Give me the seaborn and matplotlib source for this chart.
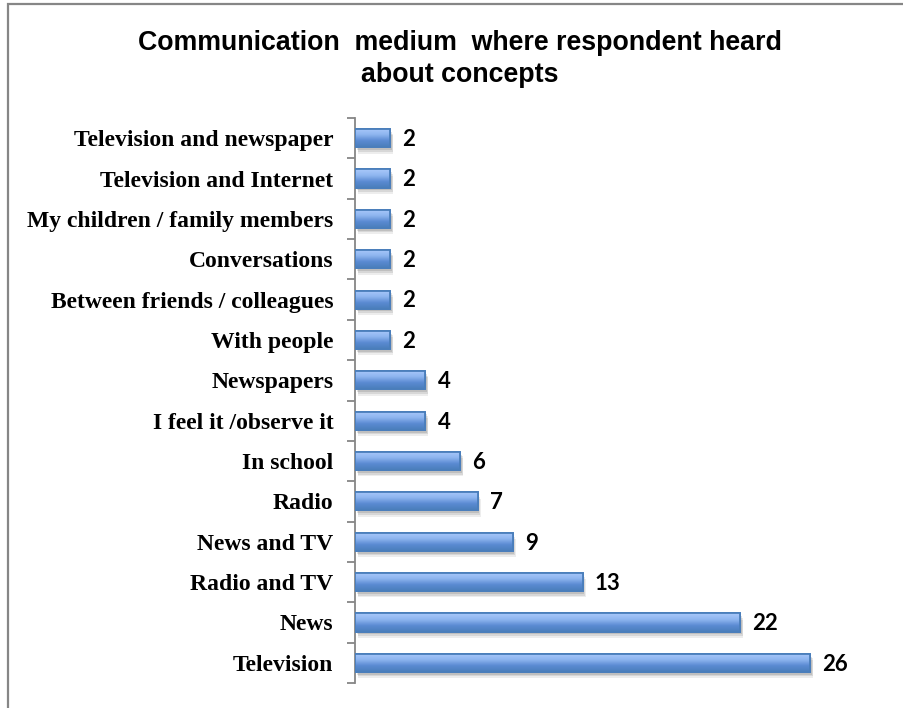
import numpy as np
import pandas as pd
import matplotlib
matplotlib.use("Agg")
import matplotlib.pyplot as plt
import matplotlib.patheffects as pe
from matplotlib.colors import LinearSegmentedColormap
from matplotlib.patches import Rectangle
import seaborn as sns

# Survey responses: where respondents heard about the concepts
categories = [
    "Television and newspaper",
    "Television and Internet",
    "My children / family members",
    "Conversations",
    "Between friends / colleagues",
    "With people",
    "Newspapers",
    "I feel it /observe it",
    "In school",
    "Radio",
    "News and TV",
    "Radio and TV",
    "News",
    "Television",
]
counts = [2, 2, 2, 2, 2, 2, 4, 4, 6, 7, 9, 13, 22, 26]
title = "Communication  medium  where respondent heard\nabout concepts"

df = pd.DataFrame({"medium": categories, "count": counts})

sns.set_theme(style="white")
plt.rcParams["font.family"] = ["DejaVu Sans"]
plt.rcParams["text.color"] = "black"
plt.rcParams["ytick.labelcolor"] = "black"

W, H = 904, 708
fig = plt.figure(figsize=(W / 100, H / 100), dpi=100)
ax = fig.add_axes([355 / W, 1 - 683 / H, (880 - 355) / W, (683 - 118) / H])

sns.barplot(data=df, x="count", y="medium", orient="h", width=0.45,
            color="#6f9ee0", edgecolor="#4a7ebb", linewidth=1.3, ax=ax,
            zorder=3)

# vertical gradient fill and soft drop shadow on each bar
grad = LinearSegmentedColormap.from_list(
    "bar", ["#a9c9fa", "#8fb6f0", "#5a8ad2", "#4a7ebb"])
gimg = np.linspace(0, 1, 64).reshape(-1, 1)
for p in ax.patches:
    x0, y0 = p.get_x(), p.get_y()
    w, h = p.get_width(), p.get_height()
    p.set_path_effects([
        pe.SimplePatchShadow(offset=(2.5, -4.5), shadow_rgbFace="#000000", alpha=0.07),
        pe.SimplePatchShadow(offset=(1.8, -3.2), shadow_rgbFace="#000000", alpha=0.09),
        pe.SimplePatchShadow(offset=(1.2, -2), shadow_rgbFace="#000000", alpha=0.11),
        pe.Normal(),
    ])
    im = ax.imshow(gimg, cmap=grad, aspect="auto", interpolation="bicubic",
                   extent=(x0, x0 + w, y0 + h, y0), zorder=4)
    im.set_clip_path(p)
    edge = Rectangle((x0, y0), w, h, fill=False, edgecolor="#4a7ebb",
                     linewidth=1.3, zorder=5)
    ax.add_patch(edge)

# value labels
for i, v in enumerate(counts):
    ax.annotate(str(v), xy=(v, i), xytext=(9, -1), textcoords="offset points",
                ha="left", va="center", fontsize=16, fontweight="bold",
                family=["Lato", "DejaVu Sans"], color="#000000")

ax.set_xlim(0, 30)
ax.set_ylim(len(categories) - 0.5, -0.5)
ax.set_xlabel("")
ax.set_ylabel("")
ax.set_xticks([])

# category labels with separating ticks on the axis
ax.set_yticks(range(len(categories)))
ax.set_yticklabels(categories, fontsize=17, fontweight="bold",
                   family=["Liberation Serif", "DejaVu Serif"], color="black")
ax.tick_params(axis="y", which="major", length=0, pad=15.5)
ax.set_yticks(np.arange(-0.5, len(categories) + 0.5, 1), minor=True)
ax.tick_params(axis="y", which="minor", left=True, length=6, width=1.3,
               color="#868686")

for s in ["top", "right", "bottom"]:
    ax.spines[s].set_visible(False)
ax.spines["left"].set_color("#868686")
ax.spines["left"].set_linewidth(1.3)

fig.text(460 / W, 1 - 59 / H, title, ha="center", va="center",
         fontsize=19.3, fontweight="bold", linespacing=1.32, color="black",
         family=["Liberation Sans", "DejaVu Sans"])

# outer chart frame
fig.patches.append(Rectangle((8 / W, -0.05), 1.2, 1 - 4 / H + 0.05,
                             transform=fig.transFigure, fill=False,
                             edgecolor="#868686", linewidth=1.6))

fig.savefig("out.png", dpi=100)
